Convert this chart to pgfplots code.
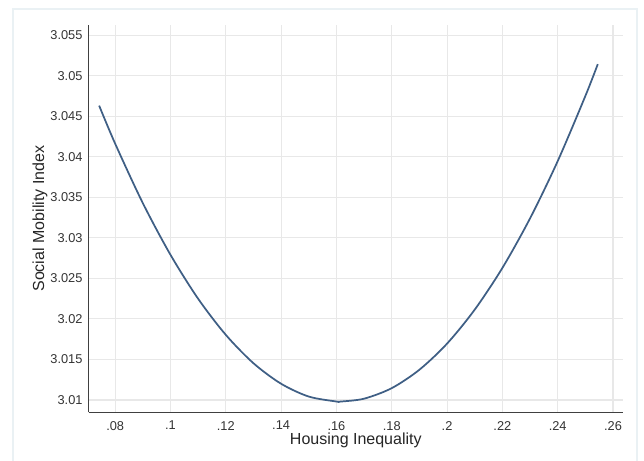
\documentclass[border=0pt]{standalone}
\usepackage{pgfplots}
\pgfplotsset{compat=1.18}
\usepackage{fontspec}
\setmainfont{Liberation Sans}
\definecolor{curve}{HTML}{3F5F85}
\definecolor{gridc}{HTML}{E8E8E8}
\definecolor{framec}{HTML}{EAF1F4}
\begin{document}
\begin{tikzpicture}[x=0.75pt,y=0.75pt]
\useasboundingbox (0,0) rectangle (644,461);
\fill[white] (0,0) rectangle (644,461);
\draw[framec, line width=1.5pt] (13,-2) -- (13,452) -- (637,452) -- (637,-2);
\begin{axis}[
  at={(66.4pt,36.4pt)}, anchor=south west,
  scale only axis, width=400.9pt, height=290.6pt,
  xmin=0.07036, xmax=0.26364,
  ymin=3.00846, ymax=3.05624,
  axis lines=left, axis line style={black!75, line width=1.1pt, -},
  xtick={0.08,0.1,0.12,0.14,0.16,0.18,0.2,0.22,0.24,0.26},
  xticklabels={.08,.1,.12,.14,.16,.18,.2,.22,.24,.26},
  ytick={3.01,3.015,3.02,3.025,3.03,3.035,3.04,3.045,3.05,3.055},
  yticklabels={3.01,3.015,3.02,3.025,3.03,3.035,3.04,3.045,3.05,3.055},
  major tick length=0pt,
  tick label style={font=\fontsize{9.6}{11}\selectfont, text=black!80},
  yticklabel style={xshift=-1pt},
  xticklabel style={yshift=-3pt},
  grid=major, major grid style={gridc, line width=0.8pt},
  xlabel={Housing Inequality}, ylabel={Social Mobility Index},
  label style={font=\fontsize{12}{14}\selectfont, text=black!85},
  xlabel style={at={(axis description cs:0.5,0)}, anchor=center, yshift=-20.8pt},
  ylabel style={at={(axis description cs:0,0.5)}, anchor=center, yshift=36.4pt},
  clip=false,
]
\addplot[curve, line width=1.3pt, smooth] coordinates {
(0.0742,3.04630) (0.08,3.04160) (0.09,3.03427) (0.10,3.02790) (0.11,3.02248)
(0.12,3.01803) (0.13,3.01453) (0.14,3.01200) (0.15,3.01042) (0.16,3.00981)
(0.1614,3.00980) (0.17,3.01016) (0.18,3.01146) (0.19,3.01373) (0.20,3.01695)
(0.21,3.02114) (0.22,3.02628) (0.23,3.03239) (0.24,3.03945) (0.25,3.04748)
(0.2545,3.05141)
};
\end{axis}
\end{tikzpicture}
\end{document}
